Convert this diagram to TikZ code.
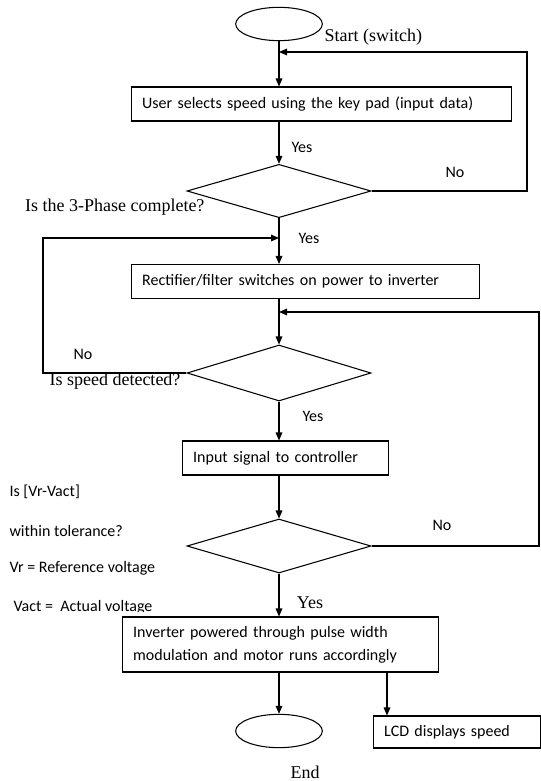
\documentclass[tikz,border=0pt]{standalone}
\usepackage{fontspec}
\setmainfont{Liberation Serif}
\newfontfamily\calibri{Carlito}
\usetikzlibrary{shapes.geometric, arrows.meta, calc}

\begin{document}
\begin{tikzpicture}[x=0.75pt, y=-0.75pt, line width=0.8pt,
  every node/.style={inner sep=0pt},
  flow/.style={-{Triangle[length=6pt,width=5pt]}},
  term/.style={draw, ellipse, minimum width=65pt, minimum height=25pt},
  proc/.style={draw, rectangle, anchor=west, align=left, inner xsep=8pt,
    minimum height=25.5pt, font=\calibri\fontsize{12}{17.25}\selectfont},
  decision/.style={draw, diamond, minimum width=138pt, minimum height=40pt},
  lbl/.style={font=\calibri\fontsize{12}{14}\selectfont},
  note/.style={font=\fontsize{13.5}{16}\selectfont}]
  % Picture frame, 1 unit = 1 pixel of the reference
  \useasboundingbox (0,0) rectangle (541,781);

  % Start
  \node[term] (start) at (279,24) {};
  \node[note, anchor=west] (startlbl) at (324,37) {Start (switch)};

  % Key pad input
  \node[proc, text width=269pt] (keypad) at (131,104)
    {User selects speed using the key pad (input data)};

  % First check: supply
  \node[decision] (phase) at (279,191) {};
  \node[note, anchor=east] (phaselbl) at (205,207) {Is the 3-Phase complete?};

  % Rectifier stage
  \node[proc, text width=245pt] (rectifier) at (131,281.5)
    {Rectifier/filter switches on power to inverter};

  % Second check: speed sensor
  \node[decision, minimum height=42pt] (speed) at (279,373) {};
  \node[note, anchor=east] (speedlbl) at (181,381) {Is speed detected?};

  % Controller input
  \node[proc, text width=138.5pt] (signal) at (182,458) {Input signal to controller};

  % Third check: voltage error
  \node[decision, minimum height=40.5pt] (tol) at (279,546) {};
  \node[lbl, anchor=west] (cond1) at (9,492) {Is [Vr-Vact]};
  \node[lbl, anchor=west] (cond2) at (9,531) {within tolerance?};
  \node[lbl, anchor=west] (cond3) at (9,568) {Vr = Reference voltage};
  \begin{scope}
    \clip (0,595) rectangle (200,611);
    \node[lbl, anchor=west] (cond4) at (13,607) {Vact =\ \ Actual voltage};
  \end{scope}

  % PWM stage
  \node[proc, text width=221pt, minimum height=41.25pt] (pwm) at (122,644.5)
    {Inverter powered through pulse width\\modulation and motor runs accordingly};

  % End and display
  \node[term] (stop) at (279,731) {};
  \node[note] (stoplbl) at (305,772) {End};
  \node[proc, text width=109pt, minimum height=24pt] (lcd) at (373,732) {LCD displays speed};

  % Main flow
  \draw[flow] (start) -- (start |- keypad.north);
  \draw[flow] (keypad.south -| phase.north) -- (phase.north);
  \draw[flow] (phase) -- (phase |- rectifier.north);
  \draw[flow] (rectifier.south -| speed.north) -- (speed.north);
  \draw[flow] (speed) -- (speed |- signal.north);
  \draw[flow] (signal.south -| tol.north) -- (tol.north);
  \draw[flow] (tol) -- (tol |- pwm.north);
  \draw[flow] (pwm.south -| stop.north) -- (stop);
  \coordinate (lcdtap) at ([xshift=10.5pt]lcd.north west);
  \draw[flow] (lcdtap |- pwm.south) -- (lcdtap);

  % Loops back on "No"
  \coordinate (loopA) at (527,52);
  \draw[flow] (phase.east) -| (loopA) -- (loopA -| start.south);
  \coordinate (loopB) at (43,238);
  \draw[flow] (speed.west) -| (loopB) -- (loopB -| phase.south);
  \coordinate (loopC) at (539,312);
  \draw[flow] (tol.east) -| (loopC) -- (loopC -| speed.north);

  % Branch labels
  \node[lbl] (yes1) at (302,147) {Yes};
  \node[lbl] (yes2) at (309,238) {Yes};
  \node[lbl] (yes3) at (313,416) {Yes};
  \node[note] (yes4) at (310,603) {Yes};
  \node[lbl] (no1) at (455,172) {No};
  \node[lbl] (no2) at (83,354) {No};
  \node[lbl] (no3) at (442,525) {No};
\end{tikzpicture}
\end{document}
